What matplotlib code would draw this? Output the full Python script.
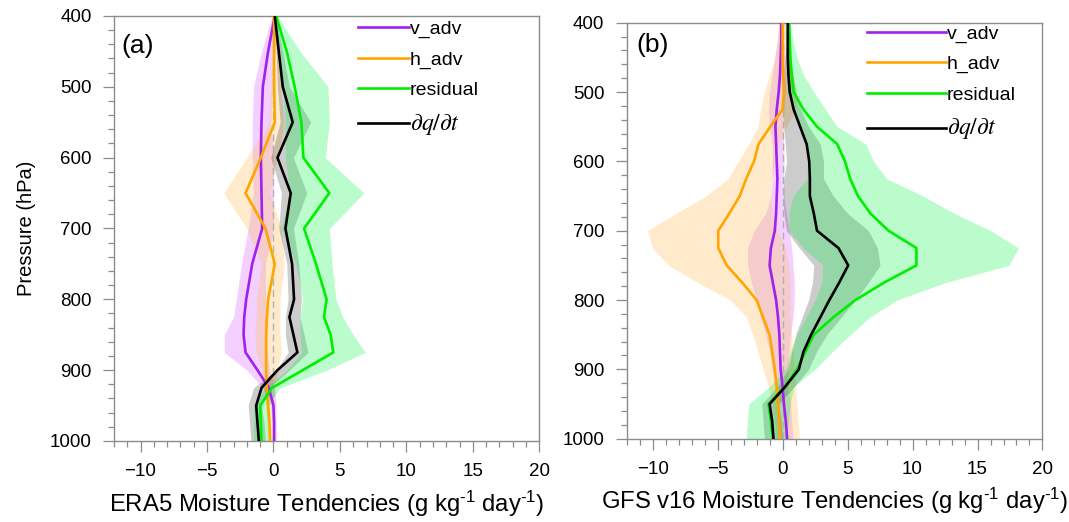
import numpy as np
import matplotlib
matplotlib.use("Agg")
import matplotlib.pyplot as plt
from matplotlib.ticker import MultipleLocator

plt.rcParams["font.family"] = ["Liberation Sans", "DejaVu Sans"]
plt.rcParams["mathtext.fontset"] = "stix"

# ---------------- ERA5 (panel a) ----------------
p_era5 = [400, 450, 500, 550, 600, 650, 700, 750, 800, 825, 850, 875, 900, 925, 950, 975, 1000]

era5_vadv = [0.1, -0.4, -0.8, -0.9, -0.95, -0.9, -0.85, -1.6, -2.05, -2.2, -2.25, -2.1, -1.2, -0.35, 0.0, 0.05, 0.05]
era5_hadv = [0.05, 0.05, 0.05, 0.1, -0.95, -2.1, -0.6, 0.1, -0.4, -0.5, -0.55, -0.55, -0.55, -0.5, -0.4, -0.3, -0.25]
era5_resid = [0.2, 1.0, 1.6, 2.1, 2.25, 4.2, 2.3, 3.2, 4.0, 3.8, 4.3, 4.5, 2.2, -0.1, -1.0, -0.95, -0.9]
era5_dqdt = [0.1, 0.4, 0.7, 1.45, 0.3, 1.3, 0.9, 1.4, 1.55, 1.2, 1.5, 1.8, 0.3, -0.9, -1.3, -1.2, -1.1]

era5_vadv_lo = [-0.1, -0.9, -1.5, -1.6, -1.6, -1.5, -1.9, -2.4, -2.8, -3.0, -3.7, -3.7, -2.0, -0.8, -0.2, -0.1, -0.1]
era5_vadv_hi = [0.2, 0.1, -0.1, -0.2, 0.0, 0.0, 0.0, -0.6, -0.6, -0.6, -0.5, -0.5, -0.3, 0.1, 0.2, 0.2, 0.2]
era5_hadv_lo = [-0.1, -0.1, -0.2, -0.3, -2.0, -3.75, -2.0, -0.9, -1.3, -1.3, -1.4, -1.3, -0.9, -0.7, -0.6, -0.5, -0.5]
era5_hadv_hi = [0.15, 0.3, 0.5, 0.8, 0.3, -0.3, 0.6, 0.8, 0.5, 0.5, 0.5, 0.6, 0.3, 0.1, 0.0, 0.0, 0.0]
era5_resid_lo = [0.1, 0.5, 0.7, 0.9, 0.9, 1.2, 0.6, 1.7, 2.2, 2.0, 2.0, 2.1, 1.0, -0.6, -1.5, -1.5, -1.5]
era5_resid_hi = [0.3, 2.0, 4.1, 4.2, 3.9, 6.8, 4.2, 4.4, 4.7, 5.2, 6.0, 6.9, 4.0, 0.5, -0.4, -0.4, -0.4]
era5_dqdt_lo = [0.0, 0.2, 0.3, 0.5, -0.2, 0.6, 0.4, 1.0, 1.1, 0.9, 0.9, 1.1, 0.2, -1.5, -1.9, -1.8, -1.7]
era5_dqdt_hi = [0.2, 0.7, 1.2, 2.8, 1.5, 2.5, 1.5, 1.9, 2.1, 2.0, 2.3, 2.6, 1.2, -0.3, -0.9, -0.7, -0.6]

# ---------------- GFS v16 (panel b) ----------------
p_gfs = [400, 425, 450, 475, 500, 525, 550, 575, 600, 625, 650, 675, 700,
         725, 750, 775, 800, 825, 850, 875, 900, 925, 950, 975, 1000]

gfs_vadv = [-0.1, -0.1, -0.15, -0.2, -0.3, -0.45, -0.55, -0.5, -0.45, -0.4, -0.45, -0.5, -0.6,
            -0.9, -1.0, -0.75, -0.5, -0.35, -0.25, -0.2, -0.15, 0.0, 0.1, 0.25, 0.35]
gfs_hadv = [0.0, 0.0, 0.0, 0.05, 0.1, 0.0, -0.95, -1.85, -2.2, -2.8, -3.3, -4.1, -4.95,
            -4.95, -4.3, -3.1, -2.0, -1.5, -1.0, -0.8, -0.6, -0.45, -0.35, -0.25, -0.2]
gfs_resid = [0.5, 0.55, 0.6, 0.7, 0.85, 1.6, 2.65, 4.2, 4.8, 5.2, 5.8, 6.75, 8.15,
             10.3, 10.3, 7.8, 5.6, 3.9, 2.4, 1.75, 1.1, 0.2, -1.08, -0.9, -0.75]
gfs_dqdt = [0.4, 0.4, 0.4, 0.45, 0.55, 0.85, 1.35, 1.85, 2.05, 2.1, 2.1, 2.4, 2.65,
            4.3, 5.05, 4.35, 3.6, 2.9, 2.2, 1.6, 1.25, 0.2, -1.0, -0.8, -0.7]

gfs_vadv_lo = [-0.3, -0.4, -0.6, -0.8, -1.0, -1.1, -1.0, -0.8, -0.8, -0.8, -0.9, -1.3, -2.2,
               -2.7, -2.7, -2.4, -2.0, -1.7, -1.3, -1.0, -0.8, -0.6, -0.4, -0.3, -0.2]
gfs_vadv_hi = [0.1, 0.1, 0.2, 0.2, 0.2, 0.1, 0.0, 0.1, 0.1, 0.1, 0.1, 0.3, 0.5,
               0.7, 0.8, 0.9, 0.9, 0.8, 0.6, 0.5, 0.4, 0.4, 0.6, 0.7, 0.8]
gfs_hadv_lo = [-0.3, -0.4, -0.6, -1.0, -1.4, -1.7, -1.9, -2.6, -3.4, -4.2, -5.9, -8.2, -10.4,
               -10.0, -8.8, -6.5, -4.0, -2.8, -2.3, -1.9, -1.5, -1.1, -0.8, -0.6, -0.5]
gfs_hadv_hi = [0.2, 0.3, 0.5, 0.8, 1.1, 1.0, 0.3, -0.3, -0.6, -0.8, -0.9, -0.8, -0.4,
               0.2, 0.5, 0.6, 0.6, 0.6, 0.7, 0.8, 0.9, 1.0, 1.1, 1.2, 1.3]
gfs_resid_lo = [0.2, 0.2, 0.3, 0.35, 0.4, 0.8, 1.3, 1.8, 1.9, 1.9, 0.8, 0.5, 0.5,
                1.6, 3.1, 3.0, 2.5, 1.8, 1.1, 0.6, 0.2, -1.0, -2.6, -2.7, -2.8]
gfs_resid_hi = [0.6, 0.8, 1.1, 1.6, 2.4, 3.3, 4.2, 6.4, 7.0, 8.0, 10.8, 13.2, 16.0,
                18.15, 17.4, 12.5, 8.8, 6.7, 5.2, 3.8, 2.5, 0.85, 0.6, 0.45, 0.3]
gfs_dqdt_lo = [0.3, 0.3, 0.2, 0.1, 0.0, 0.0, 0.1, 0.2, 0.3, 0.1, 0.05, 0.1, 0.3,
               1.3, 2.4, 2.3, 2.0, 1.5, 1.0, 0.7, 0.4, -0.4, -1.6, -1.5, -1.4]
gfs_dqdt_hi = [0.5, 0.55, 0.6, 0.8, 1.0, 1.4, 2.0, 2.9, 3.15, 3.15, 3.9, 5.0, 6.6,
               7.3, 7.5, 6.6, 5.6, 4.5, 3.4, 2.6, 2.0, 0.9, -0.3, -0.1, 0.0]

labels = ["v_adv", "h_adv", "residual", r"$\partial q/\partial t$"]
line_colors = ["#A020F0", "#FFA500", "#00EE00", "#000000"]
band_colors = ["#D458FF", "#FFC055", "#03F442", "#000000"]
band_alpha = [0.28, 0.30, 0.27, 0.20]
spine_gray = "#8c8c8c"
unit_text = "(g kg$\\mathregular{^{\u20101}}$ day$\\mathregular{^{\u20101}}$)"


def draw_panel(ax, p, lines, bands, tag, tag_xy, xlabel, handlelen, leg_x, leg_y):
    # spread envelopes: v_adv, h_adv, dq/dt, then residual on top
    for i in (0, 1, 3, 2):
        lo, hi = bands[i]
        ax.fill_betweenx(p, lo, hi, color=band_colors[i], alpha=band_alpha[i], lw=0)
    ax.axvline(0, color="#b0b0b0", lw=1.0, ls=(0, (5, 3)), zorder=2)
    handles = []
    for i in range(4):
        h, = ax.plot(lines[i], p, color=line_colors[i], lw=1.9, zorder=3 + i)
        handles.append(h)

    ax.set_xlim(-12, 20)
    ax.set_ylim(1000, 400)
    ax.xaxis.set_minor_locator(MultipleLocator(1))
    ax.yaxis.set_major_locator(MultipleLocator(100))
    ax.yaxis.set_minor_locator(MultipleLocator(20))
    ax.set_xticks([-10, -5, 0, 5, 10, 15, 20])
    ax.tick_params(which="both", direction="out", color=spine_gray, width=0.9,
                   labelsize=13.5, top=False, right=False)
    ax.tick_params(which="major", length=8, pad=8)
    ax.tick_params(which="minor", length=4)
    for s in ax.spines.values():
        s.set_color(spine_gray)
        s.set_linewidth(1.0)
    ax.set_xlabel(xlabel, fontsize=17.2, labelpad=6)
    ax.text(tag_xy[0], tag_xy[1], tag, transform=ax.transAxes, fontsize=19,
            ha="left", va="center")
    leg = ax.legend(handles, labels, loc="upper left", bbox_to_anchor=(leg_x, leg_y),
                    frameon=False, fontsize=14, handlelength=handlelen,
                    handletextpad=0.05, borderpad=0.0, borderaxespad=0.0,
                    labelspacing=0.66)
    leg.get_texts()[3].set_fontsize(17)
    return leg


fig = plt.figure(figsize=(10.69, 5.22), dpi=100)
ax_a = fig.add_axes([0.1066, 0.1552, 0.3979, 0.8142])
ax_b = fig.add_axes([0.5862, 0.1596, 0.3890, 0.7969])

draw_panel(ax_a, p_era5,
           [era5_vadv, era5_hadv, era5_resid, era5_dqdt],
           [(era5_vadv_lo, era5_vadv_hi), (era5_hadv_lo, era5_hadv_hi),
            (era5_resid_lo, era5_resid_hi), (era5_dqdt_lo, era5_dqdt_hi)],
           "(a)", (0.018, 0.929),
           "ERA5 Moisture Tendencies " + unit_text,
           2.6, 0.574, 0.99)
draw_panel(ax_b, p_gfs,
           [gfs_vadv, gfs_hadv, gfs_resid, gfs_dqdt],
           [(gfs_vadv_lo, gfs_vadv_hi), (gfs_hadv_lo, gfs_hadv_hi),
            (gfs_resid_lo, gfs_resid_hi), (gfs_dqdt_lo, gfs_dqdt_hi)],
           "(b)", (0.024, 0.946),
           "GFS v16 Moisture Tendencies " + unit_text,
           4.05, 0.578, 0.995)

ax_a.set_ylabel("Pressure (hPa)", fontsize=14.5, labelpad=10)

fig.savefig("out.png", dpi=100)
